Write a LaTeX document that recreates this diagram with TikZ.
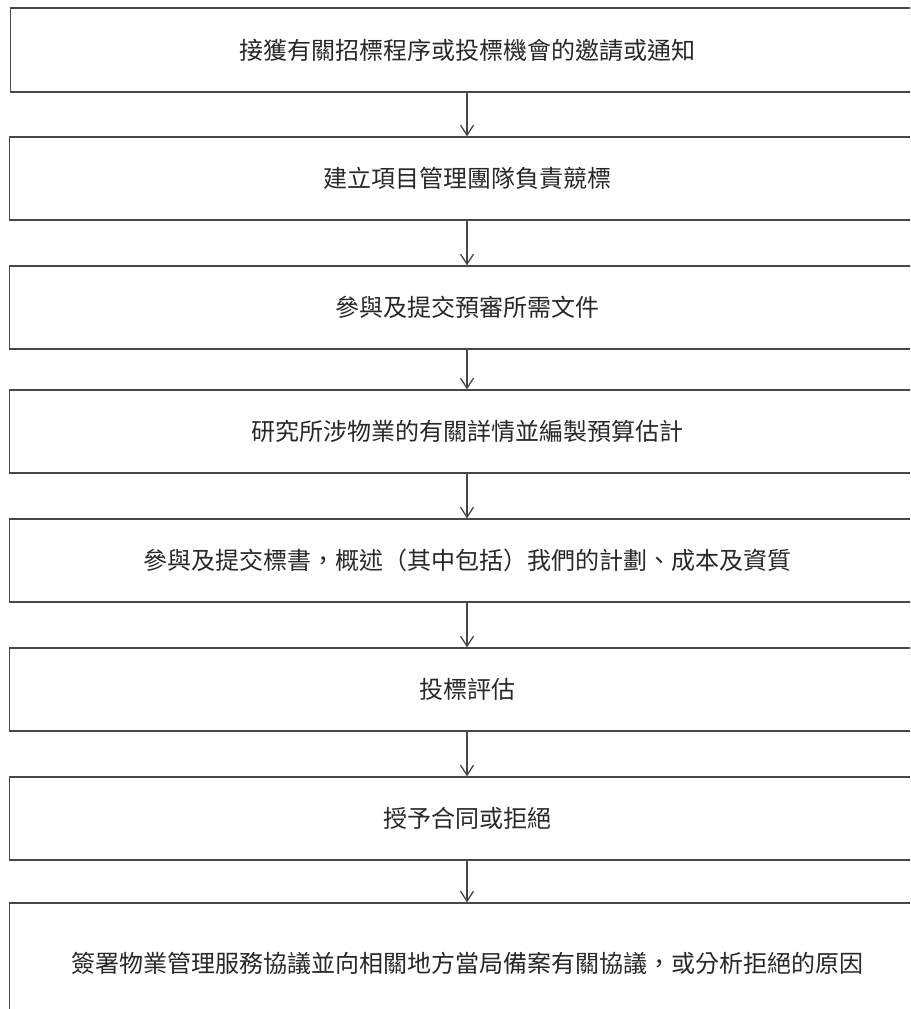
\documentclass[tikz,border=0pt]{standalone}
\usepackage{fontspec}
\newfontfamily\cjk{Noto Sans CJK TC}
\usetikzlibrary{arrows.meta}
\definecolor{ink}{RGB}{70,70,75}
\definecolor{txt}{RGB}{40,40,40}
\tikzset{
  >={Straight Barb[length=10pt,width=13pt]},
  stage/.style={draw=ink,line width=1.3pt,minimum width=915pt,minimum height=#1,
    inner sep=0pt,text=txt,font=\cjk\fontsize{24}{28}\selectfont},
  stage/.default=83pt,
  flow/.style={->,draw=ink,line width=1.3pt},
}
\begin{document}
\begin{tikzpicture}[x=1pt,y=-1pt]
  \clip (0,0) rectangle (910,1009);
  \node[stage=84pt,minimum width=913pt] (n1) at (467,50) {接獲有關招標程序或投標機會的邀請或通知};
  \node[stage] (n2) at (467,178.5) {建立項目管理團隊負責競標};
  \node[stage] (n3) at (467,307.5) {參與及提交預審所需文件};
  \node[stage] (n4) at (467,431.5) {研究所涉物業的有關詳情並編製預算估計};
  \node[stage] (n5) at (467,560.5) {參與及提交標書，概述（其中包括）我們的計劃、成本及資質};
  \node[stage] (n6) at (467,689.5) {投標評估};
  \node[stage] (n7) at (467,818.5) {授予合同或拒絕};
  \node[stage=120pt] (n8) at (467,963) {簽署物業管理服務協議並向相關地方當局備案有關協議，或分析拒絕的原因};
  \foreach \a/\b in {n1/n2,n2/n3,n3/n4,n4/n5,n5/n6,n6/n7,n7/n8}
    \draw[flow] (\a.south) -- (\b.north);
\end{tikzpicture}
\end{document}
